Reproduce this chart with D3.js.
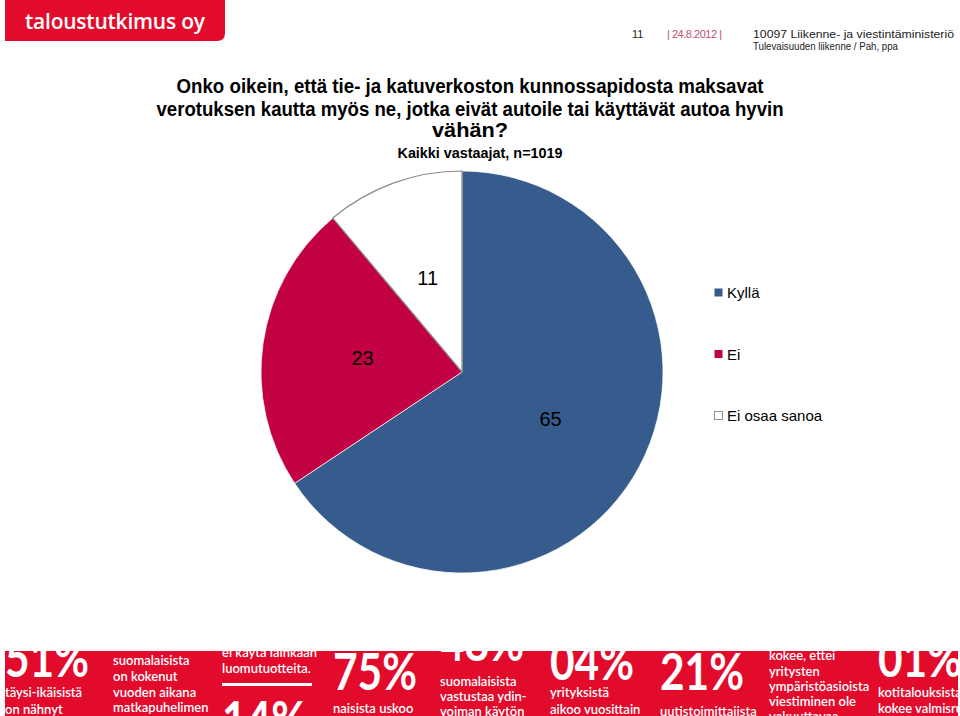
<!DOCTYPE html>
<html>
<head>
<meta charset="utf-8">
<script src="https://cdn.jsdelivr.net/npm/d3@7"></script>
<style>
  body { margin: 0; background: #fff; }
  svg { display: block; }
</style>
</head>
<body>
<div id="chart"></div>
<script>
// chart data
var categories = ["Kyllä", "Ei", "Ei osaa sanoa"];
var values = [65, 23, 11];
var sliceColors = ["#365c8e", "#c20044", "#ffffff"];

var titleLines = [
    "Onko oikein, että tie- ja katuverkoston kunnossapidosta maksavat",
    "verotuksen kautta myös ne, jotka eivät autoile tai käyttävät autoa hyvin",
    "vähän?"
];
var subtitle = "Kaikki vastaajat, n=1019";

// decorative banner at the bottom of the slide
var bannerBig = [
    {t: "51%", x: 5, y: 677}, {t: "14%", x: 222, y: 738}, {t: "75%", x: 333, y: 690},
    {t: "48%", x: 440, y: 661}, {t: "04%", x: 550, y: 680}, {t: "21%", x: 660, y: 690},
    {t: "01%", x: 878, y: 677}
];
var bannerSmall = [
    {x: 5, y: [697, 714], t: ["täysi-ikäisistä", "on nähnyt"]},
    {x: 113, y: [665, 681, 697, 712], t: ["suomalaisista", "on kokenut", "vuoden aikana", "matkapuhelimen"]},
    {x: 222, y: [657, 673], t: ["ei käytä lainkaan", "luomutuotteita."]},
    {x: 333, y: [713], t: ["naisista uskoo"]},
    {x: 440, y: [686, 701, 716], t: ["suomalaisista", "vastustaa ydin-", "voiman käytön"]},
    {x: 550, y: [697, 714], t: ["yrityksistä", "aikoo vuosittain"]},
    {x: 660, y: [716], t: ["uutistoimittajista"]},
    {x: 769, y: [660, 676, 691, 706, 721], t: ["kokee, ettei", "yritysten", "ympäristöasioista", "viestiminen ole", "vakuuttavaa"]},
    {x: 878, y: [697, 713], t: ["kotitalouksista", "kokee valmisruoan"]}
];

var W = 960, H = 716;
var svg = d3.select("#chart").append("svg")
    .attr("width", W)
    .attr("height", H);

// logo
svg.append("path")
    .attr("d", "M5,0 H225 V33 Q225,41 217,41 H5 Z")
    .attr("fill", "#e30b2c");
svg.append("text")
    .attr("x", 25).attr("y", 29)
    .attr("fill", "#fff")
    .style("font-family", "'Open Sans', sans-serif")
    .style("font-size", "21px")
    .style("font-weight", 600)
    .attr("textLength", 180)
    .text("taloustutkimus oy");

// header info
var hdr = svg.append("g")
    .style("font-family", "'Liberation Sans Narrow', 'Liberation Sans', Arial, sans-serif")
    .style("font-size", "11px");
hdr.append("text").attr("x", 632).attr("y", 38).attr("fill", "#222").text("11");
hdr.append("text").attr("x", 667).attr("y", 38).attr("fill", "#c4506f")
    .attr("textLength", 55).text("| 24.8.2012 |");
hdr.append("text").attr("x", 753).attr("y", 38).attr("fill", "#222")
    .attr("textLength", 201).attr("lengthAdjust", "spacingAndGlyphs")
    .text("10097 Liikenne- ja viestintäministeriö");
hdr.append("text").attr("x", 753).attr("y", 50).attr("fill", "#222")
    .attr("textLength", 145).attr("lengthAdjust", "spacingAndGlyphs")
    .text("Tulevaisuuden liikenne / Pah, ppa");

// title
var titleW = [587, 627, 76];
var titleY = [93, 116, 137];
svg.append("g").selectAll("text")
    .data(titleLines)
    .enter().append("text")
    .attr("x", 470)
    .attr("y", function(d, i) { return titleY[i]; })
    .attr("text-anchor", "middle")
    .attr("textLength", function(d, i) { return titleW[i]; })
    .attr("lengthAdjust", "spacingAndGlyphs")
    .style("font-family", "'Liberation Sans Narrow', 'Liberation Sans', Arial, sans-serif")
    .style("font-size", "20px")
    .style("font-weight", "bold")
    .attr("fill", "#000")
    .text(function(d) { return d; });
svg.append("text")
    .attr("x", 480).attr("y", 158)
    .attr("text-anchor", "middle")
    .attr("textLength", 165)
    .attr("lengthAdjust", "spacingAndGlyphs")
    .style("font-family", "'Liberation Sans Narrow', 'Liberation Sans', Arial, sans-serif")
    .style("font-size", "15px")
    .style("font-weight", "bold")
    .text(subtitle);

// pie
var cx = 462, cy = 372, r = 201;
var pie = d3.pie().sort(null).value(function(d) { return d; });
var arc = d3.arc().innerRadius(0).outerRadius(r);
var arcs = pie(values);

var g = svg.append("g").attr("transform", "translate(" + cx + "," + cy + ")");
g.selectAll("path.slice")
    .data(arcs)
    .enter().append("path")
    .attr("class", "slice")
    .attr("d", arc)
    .attr("fill", function(d, i) { return sliceColors[i]; })
    .attr("stroke", function(d, i) { return i == 2 ? "#8a8a8a" : "#fff"; })
    .attr("stroke-width", function(d, i) { return i == 2 ? 1.2 : 0.7; });

g.selectAll("text.lbl")
    .data(arcs)
    .enter().append("text")
    .attr("class", "lbl")
    .attr("transform", function(d) { return "translate(" + arc.centroid(d) + ")"; })
    .attr("text-anchor", "middle")
    .attr("dy", "0.35em")
    .style("font-family", "'Liberation Sans', Arial, sans-serif")
    .style("font-size", "20px")
    .attr("fill", "#000")
    .text(function(d) { return d.value; });

// legend
var legendY = d3.scalePoint().domain(categories).range([293, 416]);
var lg = svg.append("g").selectAll("g")
    .data(categories)
    .enter().append("g")
    .attr("transform", function(d) { return "translate(714," + legendY(d) + ")"; });
lg.append("rect")
    .attr("x", 0.5).attr("y", -4.5)
    .attr("width", 8).attr("height", 8)
    .attr("fill", function(d, i) { return sliceColors[i]; })
    .attr("stroke", function(d, i) { return i == 2 ? "#777" : "none"; })
    .attr("stroke-width", 0.8);
lg.append("text")
    .attr("x", 13).attr("y", 5)
    .style("font-family", "'Liberation Sans', Arial, sans-serif")
    .style("font-size", "15px")
    .attr("fill", "#000")
    .text(function(d) { return d; });

// bottom banner
svg.append("clipPath").attr("id", "bclip")
    .append("rect").attr("x", 5).attr("y", 651).attr("width", 953).attr("height", 65);
var banner = svg.append("g").attr("clip-path", "url(#bclip)");
banner.append("rect").attr("x", 5).attr("y", 651).attr("width", 953).attr("height", 65)
    .attr("fill", "#e30b2c");
banner.selectAll("text.big")
    .data(bannerBig)
    .enter().append("text")
    .attr("class", "big")
    .attr("x", function(d) { return d.x; })
    .attr("y", function(d) { return d.y; })
    .attr("fill", "#fff")
    .style("font-family", "Lato, 'Open Sans', sans-serif")
    .style("font-size", "52px")
    .style("font-weight", "bold")
    .attr("textLength", 84)
    .attr("lengthAdjust", "spacingAndGlyphs")
    .text(function(d) { return d.t; });
banner.append("rect").attr("x", 222).attr("y", 683).attr("width", 90).attr("height", 3).attr("fill", "#fff");
var sm = banner.selectAll("g.sm")
    .data(bannerSmall)
    .enter().append("g")
    .attr("class", "sm");
sm.selectAll("text")
    .data(function(d) { return d.t.map(function(t, i) { return {t: t, x: d.x, y: d.y[i]}; }); })
    .enter().append("text")
    .attr("x", function(d) { return d.x; })
    .attr("y", function(d) { return d.y; })
    .attr("fill", "#fff")
    .style("font-family", "Lato, 'Open Sans', sans-serif")
    .style("font-size", "13px")
    .style("font-weight", 600)
    .text(function(d) { return d.t; });
</script>
</body>
</html>
